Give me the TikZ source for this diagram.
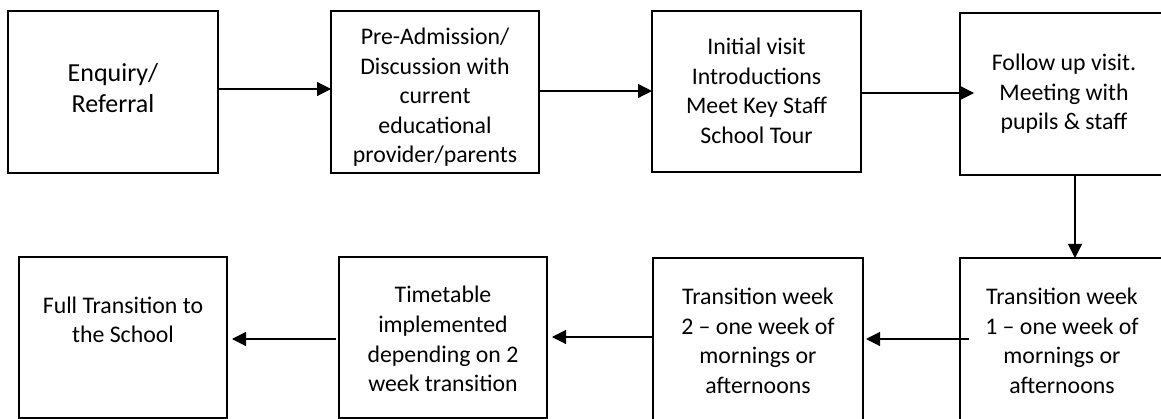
\documentclass[tikz,border=0pt]{standalone}
\usepackage{fontspec}
\setmainfont{Carlito}
\usetikzlibrary{arrows.meta}
\newcommand\linestack[1]{\begin{tabular}[t]{@{}c@{}}#1\end{tabular}}
\begin{document}
\begin{tikzpicture}[x=1pt,y=-1pt,
  box/.style={draw=black, line width=1.6pt, inner sep=0pt, outer sep=0pt, rectangle},
  lbl/.style={anchor=base, inner sep=0pt, outer sep=0pt, font=\fontsize{23.8}{29.5}\selectfont},
  flow/.style={line width=1.2pt, -{Triangle[length=14pt,width=14pt]}}]
\useasboundingbox (0,0) rectangle (1161,419);
\clip (0,0) rectangle (1161,419);

% boxes
\node[box, minimum width=210pt, minimum height=162pt] (b1) at (113,92) {};
\node[box, minimum width=208pt, minimum height=162pt] (b2) at (435,92) {};
\node[box, minimum width=209pt, minimum height=161pt] (b3) at (756.5,91.5) {};
\node[box, minimum width=209pt, minimum height=162pt] (b4) at (1064.5,94) {};
\node[box, minimum width=209pt, minimum height=162pt] (b5) at (1064.5,339) {};
\node[box, minimum width=210pt, minimum height=162pt] (b6) at (758,339) {};
\node[box, minimum width=208pt, minimum height=161pt] (b7) at (443,337.5) {};
\node[box, minimum width=208pt, minimum height=161pt] (b8) at (123,337.5) {};

% texts
\node[lbl] (t1) at (113,82) {\fontsize{26}{31}\selectfont\linestack{Enquiry/\\Referral}};
\begin{scope}
  \clip (331,11) rectangle (539,166);
  \node[lbl] (t2) at (435,45) {\linestack{Pre-Admission/\\Discussion with\\current\\educational\\provider/parents}};
\end{scope}
\node[lbl] (t3) at (756.5,55) {\linestack{Initial visit\\Introductions\\Meet Key Staff\\School Tour}};
\node[lbl] (t4) at (1064,71) {\linestack{Follow up visit.\\Meeting with\\pupils \& staff}};
\node[lbl] (t5) at (1062,305) {\linestack{Transition week\\1 – one week of\\mornings or\\afternoons}};
\node[lbl] (t6) at (758,305) {\linestack{Transition week\\2 – one week of\\mornings or\\afternoons}};
\node[lbl] (t7) at (443,303) {\linestack{Timetable\\implemented\\depending on 2\\week transition}};
\node[lbl] (t8) at (123,313) {\linestack{Full Transition to\\the School}};

% connectors
\coordinate (a3end) at (974,93);
\coordinate (s5) at (969,339);
\draw[flow] (b1.east |- 0,89) -- (b2.west |- 0,89);
\draw[flow] (b2.east |- 0,91) -- (b3.west |- 0,91);
\draw[flow] (b3.east |- 0,93) -- (a3end);
\draw[flow] (b4.south -| 1075,0) -- (b5.north -| 1075,0);
\draw[flow, shorten >=3pt] (s5) -- (b6.east |- 0,339);
\draw[flow, shorten >=5pt] (b6.west |- 0,337) -- (b7.east |- 0,337);
\draw[flow, shorten <=3pt, shorten >=5pt] (b7.west |- 0,339) -- (b8.east |- 0,339);
\end{tikzpicture}
\end{document}
